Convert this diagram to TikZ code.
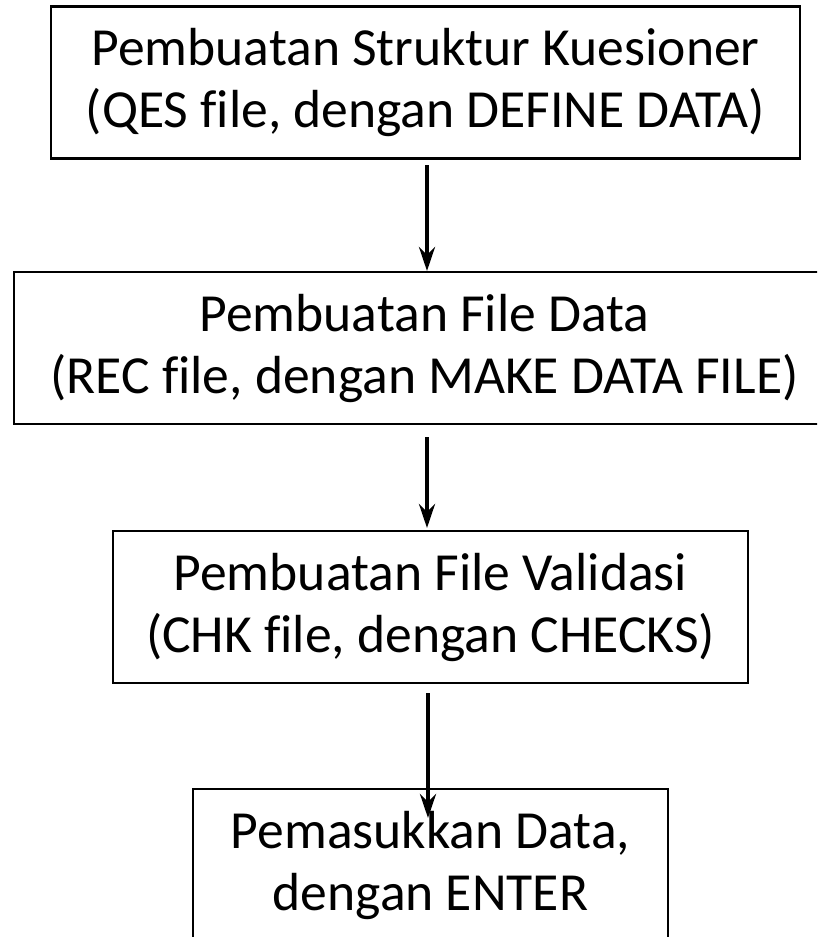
\documentclass[tikz,border=0pt]{standalone}
\usepackage{fontspec}
\setmainfont{Carlito}[Ligatures=NoCommon]
\usetikzlibrary{arrows.meta}
\begin{document}
\begin{tikzpicture}[x=1pt,y=-1pt,
  box/.style={draw, line width=2.5pt, minimum height=152pt, inner sep=0pt, align=center,
    font=\fontsize{53.6}{62}\selectfont},
  flow/.style={line width=4.5pt, -{Stealth[length=24pt,width=16pt]}}]
\useasboundingbox (0,0) rectangle (817,937);
\clip (0,0) rectangle (817,937);
\node[box, minimum width=749pt] (b1) at (425.5,82.5) {Pembuatan Struktur Kuesioner\\(QES file, dengan DEFINE DATA)};
\node[box, minimum width=821pt] (b2) at (424.5,348) {Pembuatan File Data\\(REC file, dengan MAKE DATA FILE)};
\node[box, minimum width=635pt] (b3) at (430.5,607) {Pembuatan File Validasi\\(CHK file, dengan CHECKS)};
\node[box, minimum width=475pt] (b4) at (430.5,865) {Pemasukkan Data,\\dengan ENTER};
\coordinate (s1) at (427,165); \coordinate (e1) at (427,271);
\coordinate (s2) at (427,437); \coordinate (e2) at (427,528);
\coordinate (s3) at (428,693); \coordinate (e3) at (428,818);
\draw[flow] (s1) -- (e1);
\draw[flow] (s2) -- (e2);
\draw[flow] (s3) -- (e3);
\end{tikzpicture}
\end{document}
